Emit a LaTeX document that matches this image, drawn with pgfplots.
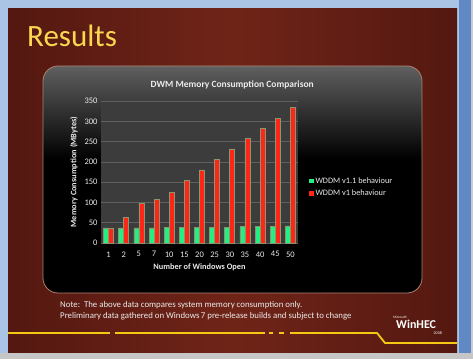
\documentclass[border=0pt]{standalone}
\usepackage{pgfplots}
\pgfplotsset{compat=1.18}
\usepackage{fontspec}
\setmainfont{Carlito}
\definecolor{slidered}{RGB}{112,36,24}
\definecolor{slidereddark}{RGB}{84,24,16}
\definecolor{framebl}{RGB}{170,196,230}
\definecolor{framebd}{RGB}{96,136,196}
\definecolor{gbar}{RGB}{34,240,130}
\definecolor{rbar}{RGB}{255,38,24}
\definecolor{barline}{RGB}{140,150,110}
\definecolor{plotbg}{RGB}{60,60,60}
\definecolor{gridc}{RGB}{96,96,96}
\definecolor{ylw}{RGB}{245,200,20}
\definecolor{titley}{RGB}{250,215,80}
\begin{document}
\begin{tikzpicture}[x=1pt,y=1pt]
\useasboundingbox (0,0) rectangle (473,359);
% window frame
\fill[framebl] (0,0) rectangle (473,359);
\fill[framebd] (459,0) rectangle (471,359);
\fill[gray!40] (471,0) rectangle (473,359);
\fill[gray!45] (0,0) rectangle (473,6);
% slide
\shade[left color=slidereddark, right color=slidereddark, middle color=slidered] (8,7) rectangle (457,350);
% title
\node[anchor=base west, font=\fontsize{31}{31}\selectfont, text=titley, inner sep=0] at (27,312) {Results};
% panel
\begin{scope}
\clip[rounded corners=15] (43,66) rectangle (422,293);
\fill[black] (43,66) rectangle (422,293);
\shade[top color=gray!75!black, bottom color=black] (43,200) rectangle (422,293);
\end{scope}
\draw[rounded corners=15, color={rgb,255:red,170;green,130;blue,115}, line width=0.8] (43,66) rectangle (422,293);
% notes
\node[anchor=base west, font=\fontsize{8.8}{10}\selectfont, text=white!92!black, inner sep=0] at (60,52) {Note:\ \ The above data compares system memory consumption only.};
\node[anchor=base west, font=\fontsize{8.8}{10}\selectfont, text=white!92!black, inner sep=0] at (60,41) {Preliminary data gathered on Windows\,7 pre-release builds and subject to change};
% decorative line
\draw[ylw, line width=1.8] (8,26) -- (110,26);
\draw[ylw, line width=1.8] (115,26) -- (265,26);
\draw[ylw, line width=1.8] (269,26) -- (273,26);
\draw[ylw, line width=1.8] (279,26) -- (284,26);
\draw[ylw, line width=1.8] (290,26) -- (377,26) -- (385,16) -- (457,16);
% logo
\node[anchor=base west, font=\fontsize{3.5}{4}\selectfont, text=white, inner sep=0] at (393,40.5) {Microsoft};
\node[anchor=base west, font=\bfseries\fontsize{12}{12}\selectfont, text=white, inner sep=0] at (396,31) {WinHEC};
\node[anchor=base east, font=\fontsize{4}{4}\selectfont, text=white, inner sep=0] at (442,25) {2008};
% chart
\begin{axis}[
  at={(101pt,116pt)}, anchor=south west,
  width=197pt, height=142pt, scale only axis,
  ybar=0pt, bar width=5pt,
  xmin=-0.5, xmax=12.5, ymin=0, ymax=350,
  ytick={0,50,...,350},
  xtick={0,...,12},
  xticklabels={1,2,5,7,10,15,20,25,30,35,40,45,50},
  /pgf/number format/assume math mode=true,
  tick label style={font=\fontsize{8.5}{9}\selectfont, text=white!92!black},
  xticklabel style={yshift=-5pt},
  major tick length=0pt,
  axis line style={draw=none},
  axis background/.style={fill=plotbg},
  ymajorgrids, grid style={gridc, line width=0.6pt},
  title={DWM Memory Consumption Comparison},
  title style={font=\bfseries\fontsize{9.5}{10}\selectfont, text=white!92!black, at={(0.666,1)}, yshift=2pt},
  xlabel={Number of Windows Open},
  ylabel={Memory Consumption (MBytes)},
  label style={font=\bfseries\fontsize{8.3}{9}\selectfont, text=white!92!black},
  xlabel style={yshift=0pt},
  ylabel style={yshift=0pt},
  legend style={at={(1.04,0.39)}, anchor=west, fill=none, draw=none, text=white!92!black, font=\fontsize{8.3}{9}\selectfont, row sep=1pt},
  legend cell align=left,
  legend image code/.code={\fill[#1, draw=none] (0pt,-2pt) rectangle (4.5pt,2.5pt);},
]
\addplot[fill=gbar, draw=barline, line width=0.7pt] coordinates {(0,37) (1,37) (2,37) (3,37) (4,38) (5,38) (6,38) (7,39) (8,39) (9,40) (10,41) (11,41) (12,42)};
\addplot[fill=rbar, draw=barline, line width=0.7pt] coordinates {(0,35) (1,63) (2,98) (3,108) (4,124) (5,154) (6,180) (7,206) (8,232) (9,257) (10,283) (11,308) (12,334)};
\legend{WDDM v1.1 behaviour, WDDM v1 behaviour}
\end{axis}
\end{tikzpicture}
\end{document}
